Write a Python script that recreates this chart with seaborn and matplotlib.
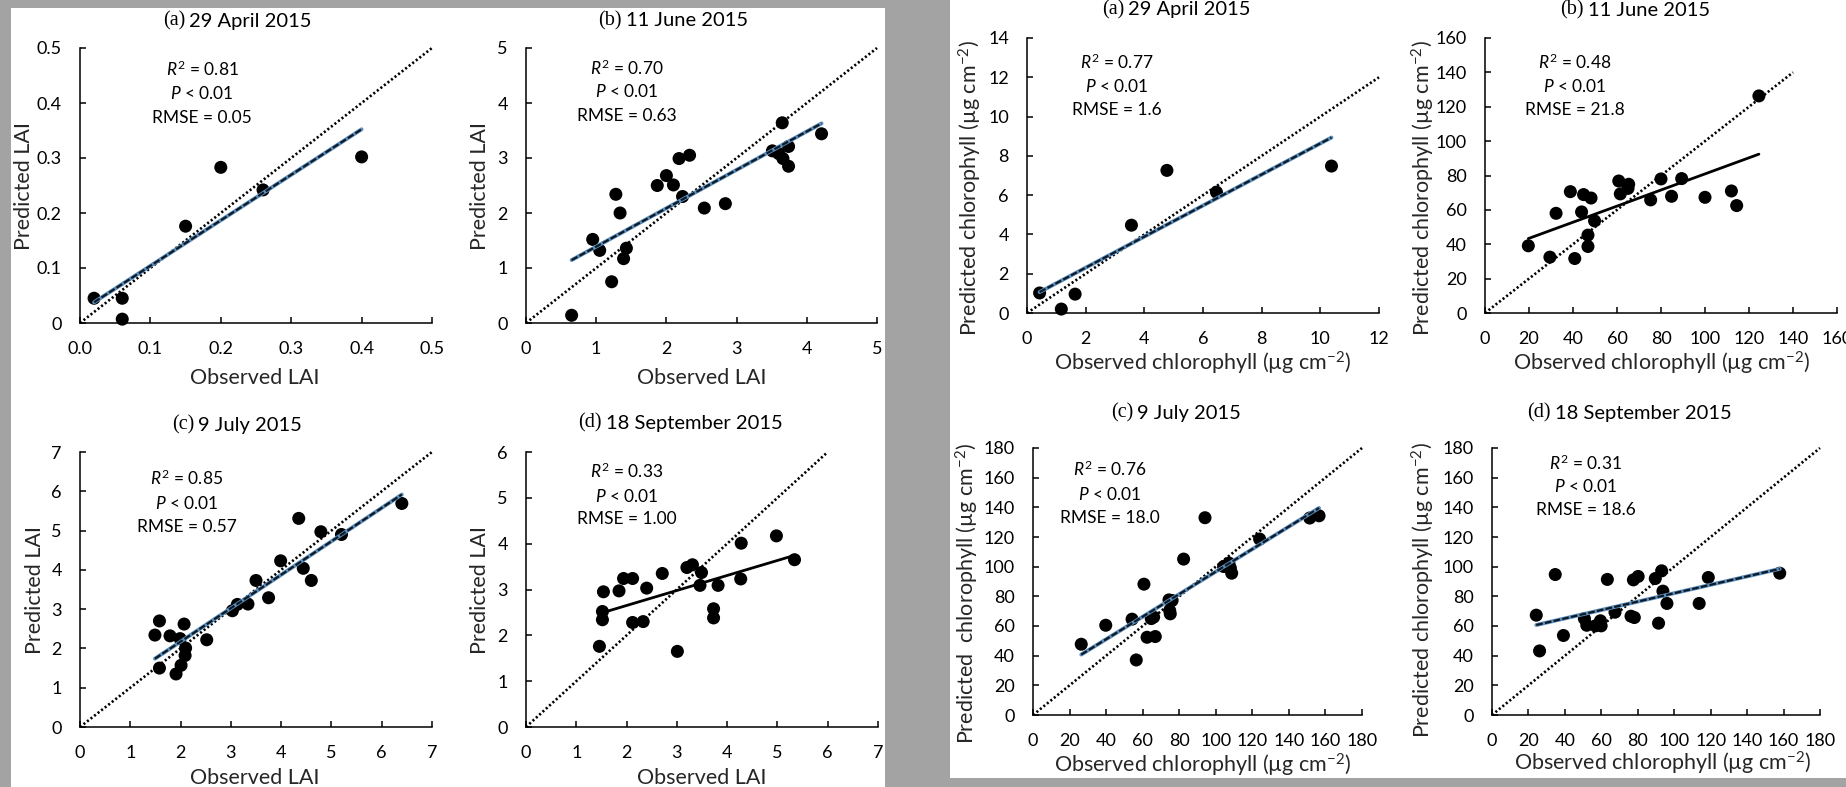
import numpy as np
import matplotlib
matplotlib.use("Agg")
import matplotlib.pyplot as plt
import seaborn as sns
from matplotlib.patches import Rectangle

# ---------------- data ----------------
lai_a_obs = [0.02, 0.06, 0.06, 0.15, 0.20, 0.26, 0.40]
lai_a_pred = [0.045, 0.045, 0.007, 0.176, 0.283, 0.242, 0.302]

lai_b_obs = [0.65, 0.95, 1.05, 1.22, 1.28, 1.34, 1.39, 1.43, 1.87, 2.00, 2.10, 2.18,
             2.23, 2.33, 2.54, 2.84, 3.51, 3.60, 3.65, 3.66, 3.74, 3.74, 4.21]
lai_b_pred = [0.14, 1.52, 1.32, 0.75, 2.34, 2.00, 1.17, 1.36, 2.50, 2.68, 2.51, 2.99,
              2.30, 3.05, 2.09, 2.17, 3.13, 3.08, 3.64, 2.99, 3.21, 2.85, 3.44]

lai_c_obs = [1.49, 1.58, 1.58, 1.79, 1.91, 1.99, 2.01, 2.07, 2.10, 2.09, 2.52, 3.03,
             3.13, 3.34, 3.50, 3.75, 3.99, 4.35, 4.44, 4.60, 4.79, 5.20, 6.40]
lai_c_pred = [2.34, 2.70, 1.50, 2.32, 1.35, 2.25, 1.57, 2.62, 2.01, 1.82, 2.22, 2.96,
              3.12, 3.13, 3.73, 3.29, 4.23, 5.31, 4.04, 3.73, 4.97, 4.90, 5.69]

lai_d_obs = [1.46, 1.52, 1.52, 1.54, 1.85, 1.94, 2.12, 2.12, 2.33, 2.40, 2.71, 3.01,
             3.20, 3.31, 3.49, 3.46, 3.73, 3.73, 3.82, 4.28, 4.27, 4.98, 5.34]
lai_d_pred = [1.76, 2.52, 2.34, 2.95, 2.97, 3.24, 3.24, 2.28, 2.30, 3.03, 3.35, 1.65,
              3.48, 3.54, 3.37, 3.09, 2.58, 2.38, 3.09, 4.01, 3.23, 4.17, 3.65]

chl_a_obs = [0.43, 1.17, 1.64, 3.56, 4.77, 6.46, 10.38]
chl_a_pred = [1.02, 0.20, 0.96, 4.47, 7.26, 6.15, 7.48]

chl_b_obs = [19.7, 29.5, 32.3, 38.8, 40.8, 43.9, 44.8, 46.8, 46.8, 48.2, 49.8, 60.8,
             61.5, 65.0, 65.3, 75.3, 80.0, 84.8, 89.4, 100.0, 112.0, 114.4, 124.5]
chl_b_pred = [39.1, 32.5, 58.0, 70.6, 31.7, 58.8, 68.9, 45.3, 38.7, 66.9, 53.6, 76.8,
              69.3, 72.5, 74.9, 65.8, 78.0, 67.9, 78.2, 67.3, 71.0, 62.5, 126.3]

chl_c_obs = [26.4, 39.8, 54.2, 56.5, 60.7, 62.4, 64.7, 66.0, 66.9, 74.4, 74.8, 75.1,
             76.1, 82.4, 94.1, 104.3, 107.2, 108.0, 108.7, 124.0, 151.4, 156.5]
chl_c_pred = [47.7, 60.5, 64.6, 37.1, 88.2, 52.4, 65.0, 66.0, 52.9, 77.6, 70.4, 68.2,
              77.2, 105.1, 133.0, 100.1, 102.4, 99.0, 95.6, 118.6, 132.8, 134.3]

chl_d_obs = [24.3, 26.1, 34.7, 39.2, 50.7, 52.0, 56.8, 59.5, 59.9, 63.3, 67.5, 76.3,
             78.1, 77.6, 80.2, 89.6, 91.4, 93.1, 93.8, 96.0, 113.7, 118.7, 157.9]
chl_d_pred = [67.3, 43.2, 94.7, 53.6, 65.0, 60.5, 60.1, 63.5, 60.1, 91.4, 69.3, 66.6,
              65.7, 91.1, 93.4, 92.0, 61.9, 97.2, 83.5, 75.2, 75.2, 92.7, 95.6]

# statistics text
r2_values = ["0.81", "0.70", "0.85", "0.33", "0.77", "0.48", "0.76", "0.31"]
rmse_values = ["0.05", "0.63", "0.57", "1.00", "1.6", "21.8", "18.0", "18.6"]

# titles
panel_letters = ["(a)", "(b)", "(c)", "(d)", "(a)", "(b)", "(c)", "(d)"]
panel_dates = ["29 April 2015", "11 June 2015", "9 July 2015", "18 September 2015",
               "29 April 2015", "11 June 2015", "9 July 2015", "18 September 2015"]

# axis ticks
lai_a_xticks = [0.0, 0.1, 0.2, 0.3, 0.4, 0.5]
lai_a_xticklabels = ["0.0", "0.1", "0.2", "0.3", "0.4", "0.5"]
lai_a_yticklabels = ["0", "0.1", "0.2", "0.3", "0.4", "0.5"]
lai_b_ticks = [0, 1, 2, 3, 4, 5]
lai_c_ticks = [0, 1, 2, 3, 4, 5, 6, 7]
lai_d_xticks = [0, 1, 2, 3, 4, 5, 6, 7]
lai_d_yticks = [0, 1, 2, 3, 4, 5, 6]
chl_a_xticks = [0, 2, 4, 6, 8, 10, 12]
chl_a_yticks = [0, 2, 4, 6, 8, 10, 12, 14]
chl_b_ticks = [0, 20, 40, 60, 80, 100, 120, 140, 160]
chl_cd_ticks = [0, 20, 40, 60, 80, 100, 120, 140, 160, 180]

# 1:1 line extent
diag_ends = [0.5, 5, 7, 6, 12, 140, 180, 180]

# ---------------- style ----------------
sns.set_style("ticks")
plt.rcParams["font.family"] = ["Lato", "DejaVu Sans"]
plt.rcParams["mathtext.fontset"] = "custom"
plt.rcParams["mathtext.rm"] = "Lato"
plt.rcParams["mathtext.it"] = "Lato:italic"
plt.rcParams["mathtext.bf"] = "Lato:bold"
plt.rcParams["axes.linewidth"] = 1.1

W, H = 1846, 787
fig = plt.figure(figsize=(W / 100, H / 100), dpi=100, facecolor="#a3a3a3")


def fx(px):
    return px / W


def fy(py):
    return 1 - py / H


# white panels (behind everything)
for (x0, y0, x1, y1) in [(11, 8, 885, 787), (950, 0, 1846, 778)]:
    fig.patches.append(Rectangle((fx(x0), fy(y1)), fx(x1) - fx(x0), fy(y0) - fy(y1),
                                 transform=fig.transFigure, facecolor="white",
                                 edgecolor="none", zorder=-10))

LAI_X = "Observed LAI"
LAI_Y = "Predicted LAI"
CHL_X = "Observed chlorophyll (µg cm$^{-2}$)"
CHL_Y = "Predicted chlorophyll (µg cm$^{-2}$)"
CHL_Y2 = "Predicted  chlorophyll (µg cm$^{-2}$)"

panels = [
    dict(box=(80, 48, 432, 323), x=lai_a_obs, y=lai_a_pred, xt=lai_a_xticks, xtl=lai_a_xticklabels,
         yt=lai_a_xticks, ytl=lai_a_yticklabels, lim=(0.5, 0.5), fit="blue",
         stat=(0.347, [0.921, 0.836, 0.745]), title=(189, 21), xl=LAI_X, yl=LAI_Y,
         xlc=(0.497, -0.20), ylc=(-0.159, 0.498)),
    dict(box=(526, 48, 877, 323), x=lai_b_obs, y=lai_b_pred, xt=lai_b_ticks, xtl=None,
         yt=lai_b_ticks, ytl=None, lim=(5, 5), fit="blue",
         stat=(0.287, [0.927, 0.842, 0.752]), title=(626, 21), xl=LAI_X, yl=LAI_Y,
         xlc=(0.50, -0.20), ylc=(-0.131, 0.5)),
    dict(box=(80, 452, 432, 727), x=lai_c_obs, y=lai_c_pred, xt=lai_c_ticks, xtl=None,
         yt=lai_c_ticks, ytl=None, lim=(7, 7), fit="blue",
         stat=(0.303, [0.903, 0.813, 0.728]), title=(198, 425), xl=LAI_X, yl=LAI_Y,
         xlc=(0.497, -0.185), ylc=(-0.128, 0.5)),
    dict(box=(526, 452, 878, 727), x=lai_d_obs, y=lai_d_pred, xt=lai_d_xticks, xtl=None,
         yt=lai_d_yticks, ytl=None, lim=(7, 6), fit="black",
         stat=(0.286, [0.930, 0.840, 0.755]), title=(606, 423), xl=LAI_X, yl=LAI_Y,
         xlc=(0.50, -0.185), ylc=(-0.131, 0.5)),
    dict(box=(1027, 38, 1379, 313), x=chl_a_obs, y=chl_a_pred, xt=chl_a_xticks, xtl=None,
         yt=chl_a_yticks, ytl=None, lim=(12, 14), fit="blue",
         stat=(0.254, [0.913, 0.825, 0.738]), title=(1128, 10), xl=CHL_X, yl=CHL_Y,
         xlc=(0.50, -0.182), ylc=(-0.162, 0.455)),
    dict(box=(1485, 38, 1837, 313), x=chl_b_obs, y=chl_b_pred, xt=chl_b_ticks, xtl=None,
         yt=chl_b_ticks, ytl=None, lim=(160, 160), fit="black",
         stat=(0.254, [0.913, 0.825, 0.738]), title=(1588, 10), xl=CHL_X, yl=CHL_Y,
         xlc=(0.503, -0.182), ylc=(-0.176, 0.455)),
    dict(box=(1033, 448, 1362, 715), x=chl_c_obs, y=chl_c_pred, xt=chl_cd_ticks, xtl=None,
         yt=chl_cd_ticks, ytl=None, lim=(180, 180), fit="blue",
         stat=(0.233, [0.919, 0.825, 0.7375]), title=(1137, 413), xl=CHL_X, yl=CHL_Y2,
         xlc=(0.517, -0.187), ylc=(-0.20, 0.457)),
    dict(box=(1492, 448, 1820, 715), x=chl_d_obs, y=chl_d_pred, xt=chl_cd_ticks, xtl=None,
         yt=chl_cd_ticks, ytl=None, lim=(180, 180), fit="blue",
         stat=(0.285, [0.944, 0.856, 0.766]), title=(1555, 413), xl=CHL_X, yl=CHL_Y,
         xlc=(0.52, -0.18), ylc=(-0.21, 0.468)),
]

TICK_FS = 13
LABEL_FS = 15.5
STAT_FS = 12.5

for i, p in enumerate(panels):
    x0, y0, x1, y1 = p["box"]
    ax = fig.add_axes([fx(x0), fy(y1), fx(x1) - fx(x0), fy(y0) - fy(y1)])
    ax.set_facecolor("none")

    # 1:1 dotted line
    d = diag_ends[i]
    ax.plot([0, d], [0, d], color="black", lw=1.9, linestyle=(0, (0.8, 0.9)),
            clip_on=False, zorder=2)

    # scatter + least-squares trend line
    sc_kws = dict(s=88, color="black", alpha=1.0, edgecolors="none", zorder=3, clip_on=False)
    if p["fit"] == "blue":
        sns.regplot(x=np.array(p["x"]), y=np.array(p["y"]), ax=ax, ci=None, truncate=True,
                    scatter_kws=sc_kws, line_kws=dict(color="#5d8fbd", lw=2.8, zorder=4))
        sns.regplot(x=np.array(p["x"]), y=np.array(p["y"]), ax=ax, ci=None, truncate=True,
                    scatter=False, line_kws=dict(color="#0d1a26", lw=1.6,
                                                 linestyle=(0, (3, 1)), zorder=5))
    else:
        sns.regplot(x=np.array(p["x"]), y=np.array(p["y"]), ax=ax, ci=None, truncate=True,
                    scatter_kws=sc_kws, line_kws=dict(color="black", lw=2.0, zorder=4))

    ax.set_xlim(0, p["lim"][0])
    ax.set_ylim(0, p["lim"][1])
    ax.set_xticks(p["xt"])
    ax.set_yticks(p["yt"])
    if p["xtl"] is not None:
        ax.set_xticklabels(p["xtl"])
    if p["ytl"] is not None:
        ax.set_yticklabels(p["ytl"])
    ax.tick_params(direction="in", length=4.5, width=1.1, pad=13, labelsize=TICK_FS,
                   colors="black")
    sns.despine(ax=ax)
    for s in ["left", "bottom"]:
        ax.spines[s].set_color("black")
        ax.spines[s].set_linewidth(1.1)

    ax.set_xlabel(p["xl"], fontsize=LABEL_FS)
    ax.set_ylabel(p["yl"], fontsize=LABEL_FS)
    ax.xaxis.set_label_coords(*p["xlc"])
    ax.yaxis.set_label_coords(*p["ylc"])
    ax.xaxis.label.set_va("center")
    ax.yaxis.label.set_va("center")

    # statistics
    cx, ys = p["stat"]
    lines = ["$R^{2}$ = " + r2_values[i], "$P$ < 0.01", "RMSE = " + rmse_values[i]]
    for ln, yy in zip(lines, ys):
        ax.text(cx, yy, ln, transform=ax.transAxes, ha="center", va="center",
                fontsize=STAT_FS, color="black")

    # title: serif letter + sans date
    tx, ty = p["title"]
    fig.text(fx(tx - 4), fy(ty), panel_letters[i], ha="right", va="center",
             fontsize=14.5, family=["Liberation Serif", "DejaVu Serif"], color="black")
    fig.text(fx(tx), fy(ty), panel_dates[i], ha="left", va="center",
             fontsize=14.5, color="black")

fig.savefig("out.png", dpi=100, facecolor=fig.get_facecolor())
